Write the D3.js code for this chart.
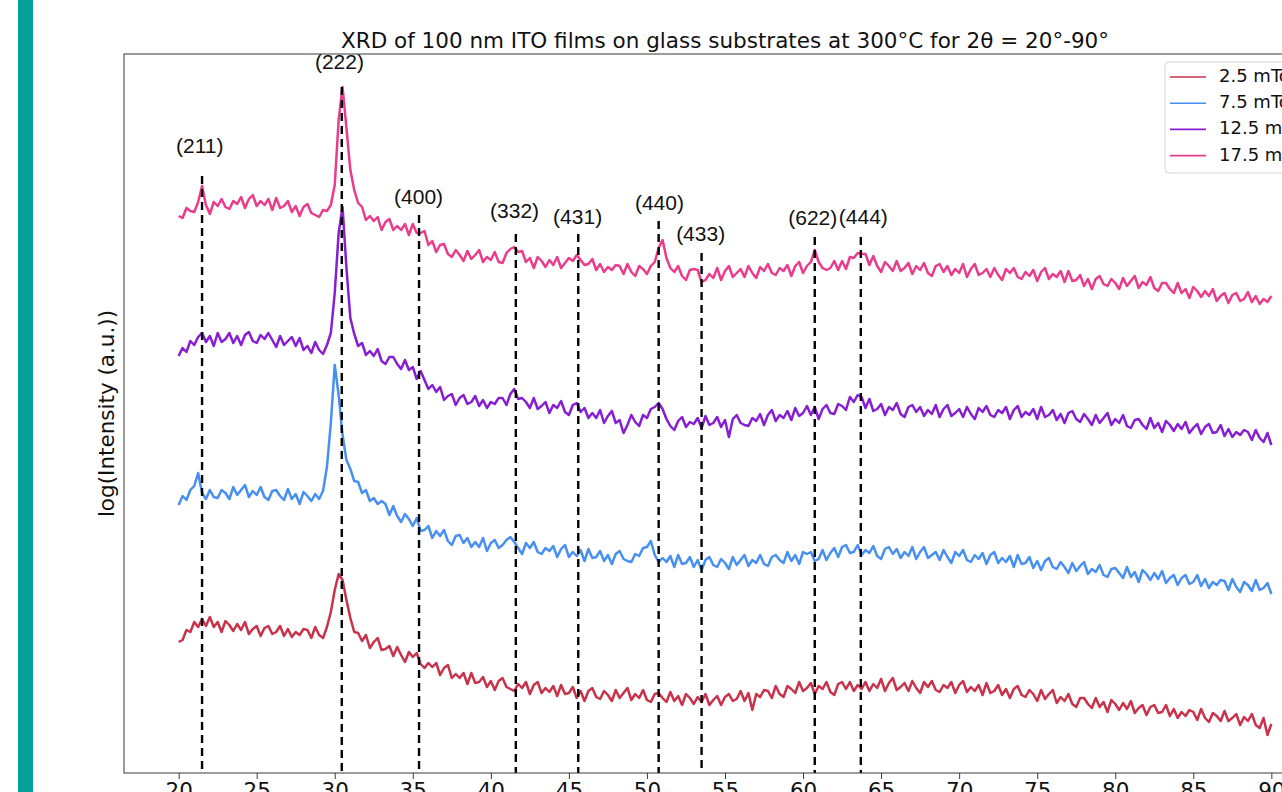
<!DOCTYPE html>
<html>
<head>
<meta charset="utf-8">
<title>XRD of ITO films</title>
<script src="https://cdn.jsdelivr.net/npm/d3@7"></script>
<style>
  body { margin: 0; background: #fff; overflow: hidden; }
  svg { display: block; }
</style>
</head>
<body>
<svg id="chart"></svg>
<script>
// 2theta grid of the scans, 20 to 90 deg every 0.25 deg
const thetaStart = 20;
const thetaStep = 0.25;

// log intensity (arb. units, offset per pressure)
const red25 = [
  131,133,143,141,151,146,154,147, 156,146,151,141,152,148,142,149,
  143,151,139,144,147,137,145,147, 139,141,147,137,144,136,141,138,
  144,143,135,146,138,135,146,161, 183,199,193,173,155,141,140,132,
  138,125,131,135,123,124,127,117, 126,118,111,121,116,120,109,105,
  110,106,110,98,105,108,95,99, 95,100,89,100,90,91,96,86,
  92,83,92,95,86,84,82,89, 85,91,79,88,91,80,85,81,
  87,77,88,79,80,86,75,82, 72,82,85,76,74,82,78,72,
  83,75,80,85,73,79,75,83, 73,71,79,80,75,71,81,72,
  77,68,79,75,69,76,71,79, 68,73,77,68,76,79,72,74,
  82,72,80,63,79,76,83,82, 75,87,79,76,87,84,80,91,
  82,85,90,79,87,84,91,81, 78,89,91,84,91,82,88,84,
  91,82,89,85,94,82,90,95, 83,86,90,82,92,85,80,91,
  86,92,83,81,88,85,91,80, 88,92,81,86,82,88,78,90,
  80,82,88,78,84,75,84,87, 78,76,83,79,72,83,74,79,
  83,70,76,72,79,69,66,75, 75,69,65,75,66,71,61,73,
  69,63,70,64,72,60,65,68, 58,66,68,60,61,68,57,64,
  55,61,57,63,61,53,64,55, 51,60,57,52,62,52,55,59,
  48,56,52,59,48,45,55,38, 49
];
const blue75 = [
  268,277,273,283,287,300,280,274, 283,276,275,283,280,274,286,278,
  283,288,276,282,278,286,276,273, 282,283,277,273,284,274,279,269,
  281,277,272,279,274,282,306,350, 408,378,338,313,304,292,291,280,
  283,272,275,269,272,269,258,267, 257,251,259,254,247,255,242,243,
  247,235,242,237,243,232,228,237, 238,230,235,226,231,226,235,222,
  230,233,225,228,233,236,231,225, 219,230,225,231,221,219,225,222,
  227,216,224,228,216,221,217,223, 212,224,215,216,222,212,218,209,
  219,222,214,212,211,219,217,225, 226,232,218,211,215,211,217,206,
  218,209,210,216,206,213,203,213, 216,208,206,214,210,204,216,208,
  213,218,207,213,210,218,209,207, 216,218,213,210,221,212,218,209,
  221,219,221,212,214,223,213,220, 225,216,226,228,220,221,228,218,
  223,220,227,217,214,224,226,219, 224,215,221,217,226,214,221,226,
  215,218,221,213,223,216,210,221, 217,223,213,211,218,214,220,209,
  218,221,210,215,211,217,206,218, 209,210,216,205,212,203,212,215,
  206,204,211,206,200,210,202,207, 211,199,204,201,208,198,196,204,
  205,200,195,206,196,201,191,203, 199,193,200,194,202,190,195,198,
  188,195,198,189,191,198,187,194, 185,191,188,193,192,183,194,186,
  181,191,188,182,193,183,185,190, 179
];
const purple125 = [
  417,425,421,432,428,436,440,431, 437,427,440,431,434,440,430,437,
  428,438,441,432,430,438,434,440, 433,426,437,428,432,436,427,435,
  423,427,420,431,423,419,428,440, 480,540,566,505,455,439,427,430,
  418,422,417,424,412,409,416,416, 409,404,413,403,406,394,402,393,
  384,388,381,386,373,377,379,368, 375,378,369,371,377,367,373,365,
  371,369,375,375,368,379,384,374, 375,371,365,375,364,367,371,360,
  368,365,372,361,358,368,370,361, 365,355,360,355,363,350,357,362,
  350,353,340,348,358,351,347,358, 355,364,366,370,364,354,347,343,
  352,356,346,351,349,355,345,357, 348,350,356,346,353,336,354,358,
  350,348,347,355,352,359,348,358, 363,352,358,355,362,353,365,357,
  360,367,358,366,354,364,368,360, 359,369,367,363,376,371,378,376,
  365,374,362,364,369,358,366,363, 370,359,356,366,368,361,366,357,
  363,359,368,356,364,368,357,360, 364,356,366,359,354,365,361,367,
  358,356,363,360,366,354,363,367, 356,361,358,364,354,366,356,358,
  363,353,359,350,360,362,354,351, 359,354,348,358,350,355,360,348,
  354,350,358,347,345,353,354,348, 344,355,345,350,341,352,348,342,
  349,344,351,340,345,349,339,346, 349,340,341,348,337,344,336,341,
  338,343,341,333,343,335,331,340, 328
];
const pink175 = [
  557,555,565,562,561,571,587,568, 559,571,567,574,566,564,572,569,
  576,565,574,578,567,572,568,574, 563,575,565,567,572,561,567,557,
  566,569,560,558,556,563,562,568, 588,653,686,645,603,583,570,566,
  553,557,552,556,543,551,554,543, 547,543,549,538,549,540,540,542,
  528,532,521,528,529,519,516,523, 518,512,522,514,518,523,511,516,
  513,521,511,510,520,524,526,521, 522,511,515,505,516,512,506,513,
  508,516,505,510,515,512,518,513, 508,509,514,503,509,501,506,503,
  508,507,499,509,501,497,507,504, 499,507,511,525,533,515,505,501,
  507,497,493,503,504,503,491,493, 499,495,505,493,502,507,496,500,
  504,496,507,500,495,506,502,509, 500,498,505,502,508,497,507,511,
  500,507,511,523,511,505,503,505, 512,503,512,504,516,515,520,519,
  519,508,517,507,501,511,507,502, 512,502,505,510,499,507,503,510,
  500,497,507,509,501,507,498,504, 500,509,496,504,509,498,500,504,
  496,505,498,493,504,500,505,496, 494,501,497,503,492,501,505,494,
  499,496,502,491,502,492,493,498, 487,494,484,494,497,489,487,494,
  490,484,495,487,492,497,485,491, 488,496,485,482,490,490,484,480,
  490,480,484,475,486,482,476,482, 477,484,472,477,480,470,478,480,
  472,474,481,471,477,469,474,471, 477
];

const seriesNames = ["2.5 mTorr", "7.5 mTorr", "12.5 mTorr", "17.5 mTorr"];
const seriesColors = ["#c8324a", "#4790f0", "#871ed2", "#ea3c8c"];
const seriesValues = [red25, blue75, purple125, pink175];

// reflections: label, 2theta of the marker, top of the marker,
// and where the label sits
const peakLabels = ["(211)", "(222)", "(400)", "(332)", "(431)", "(440)", "(433)", "(622)", "(444)"];
const peakTheta = [21.5, 30.45, 35.4, 41.6, 45.6, 50.75, 53.5, 60.75, 63.7];
const peakTop = [597, 686, 558, 539, 539, 552, 520, 536, 536];
const peakLabelTheta = [21.35, 30.3, 35.37, 41.52, 45.56, 50.8, 53.44, 60.62, 63.86];
const peakLabelY = [626, 710, 575, 561, 555, 569, 538, 554, 555];

const xTicks = [20, 25, 30, 35, 40, 45, 50, 55, 60, 65, 70, 75, 80, 85, 90];

const width = 1282;
const height = 792;
const plot = { left: 124, top: 54, right: 1326, bottom: 773 };

const svg = d3.select("#chart").attr("width", width).attr("height", height);

// teal strip on the left edge of the slide
svg.append("rect")
  .attr("x", 18).attr("y", 0)
  .attr("width", 15).attr("height", height)
  .attr("fill", "#05a09a");

const x = d3.scaleLinear().domain([16.5, 93.5]).range([plot.left, plot.right]);
const y = d3.scaleLinear().domain([0, 719]).range([plot.bottom, plot.top]);

svg.append("clipPath").attr("id", "plotclip")
  .append("rect")
  .attr("x", plot.left).attr("y", plot.top)
  .attr("width", plot.right - plot.left).attr("height", plot.bottom - plot.top);

const line = d3.line()
  .x(function(d) { return x(d[0]); })
  .y(function(d) { return y(d[1]); });

const curves = svg.append("g").attr("clip-path", "url(#plotclip)");
seriesValues.forEach(function(vals, k) {
  const pts = vals.map(function(v, i) { return [thetaStart + i * thetaStep, v]; });
  curves.append("path")
    .datum(pts)
    .attr("fill", "none")
    .attr("stroke", seriesColors[k])
    .attr("stroke-width", 2.5)
    .attr("stroke-linejoin", "round")
    .attr("d", line);
});

// dashed markers at the ITO reflections, drawn over the scans
const peaks = peakLabels.map(function(l, i) {
  return { label: l, theta: peakTheta[i], top: peakTop[i], lx: peakLabelTheta[i], ly: peakLabelY[i] };
});
svg.append("g").selectAll("line")
  .data(peaks)
  .enter()
  .append("line")
  .attr("x1", function(d) { return x(d.theta); })
  .attr("x2", function(d) { return x(d.theta); })
  .attr("y1", function(d) { return y(d.top); })
  .attr("y2", y(0))
  .attr("stroke", "#000")
  .attr("stroke-width", 2.4)
  .attr("stroke-dasharray", "8,5");

svg.append("g").selectAll("text")
  .data(peaks)
  .enter()
  .append("text")
  .attr("x", function(d) { return x(d.lx); })
  .attr("y", function(d) { return y(d.ly); })
  .attr("text-anchor", "middle")
  .attr("dominant-baseline", "middle")
  .style("font-family", "'Liberation Sans', Arial, sans-serif")
  .style("font-size", "21px")
  .attr("fill", "#111")
  .text(function(d) { return d.label; });

// frame
svg.append("rect")
  .attr("x", plot.left).attr("y", plot.top)
  .attr("width", plot.right - plot.left).attr("height", plot.bottom - plot.top)
  .attr("fill", "none")
  .attr("stroke", "#3a3a3a")
  .attr("stroke-width", 1);

const xAxis = svg.append("g")
  .attr("transform", "translate(0," + plot.bottom + ")")
  .call(d3.axisBottom(x).tickValues(xTicks).tickSize(6).tickPadding(4).tickFormat(d3.format("d")));
xAxis.select(".domain").remove();
xAxis.selectAll(".tick line").attr("stroke", "#3a3a3a");
xAxis.selectAll(".tick text")
  .style("font-family", "'DejaVu Sans', sans-serif")
  .style("font-size", "21.5px")
  .attr("fill", "#111");

// title and y label
svg.append("text")
  .attr("x", (plot.left + plot.right) / 2)
  .attr("y", 48)
  .attr("text-anchor", "middle")
  .style("font-family", "'DejaVu Sans', sans-serif")
  .style("font-size", "21.5px")
  .attr("fill", "#111")
  .text("XRD of 100 nm ITO films on glass substrates at 300°C for 2θ = 20°-90°");

svg.append("text")
  .attr("transform", "translate(114," + ((plot.top + plot.bottom) / 2) + ") rotate(-90)")
  .attr("text-anchor", "middle")
  .style("font-family", "'DejaVu Sans', sans-serif")
  .style("font-size", "21.5px")
  .attr("fill", "#111")
  .text("log(Intensity (a.u.))");

// legend
const legend = svg.append("g").attr("transform", "translate(1165,62)");
legend.append("rect")
  .attr("width", 200).attr("height", 111)
  .attr("rx", 4)
  .attr("fill", "#fff").attr("fill-opacity", 0.8)
  .attr("stroke", "#d4d4d4");
seriesNames.forEach(function(name, i) {
  const row = legend.append("g").attr("transform", "translate(0," + (15 + i * 26.2) + ")");
  row.append("line")
    .attr("x1", 5).attr("x2", 41)
    .attr("stroke", seriesColors[i])
    .attr("stroke-width", 1.6);
  row.append("text")
    .attr("x", 54)
    .attr("dominant-baseline", "middle")
    .style("font-family", "'DejaVu Sans', sans-serif")
    .style("font-size", "18px")
    .attr("fill", "#111")
    .text(name);
});
</script>
</body>
</html>
